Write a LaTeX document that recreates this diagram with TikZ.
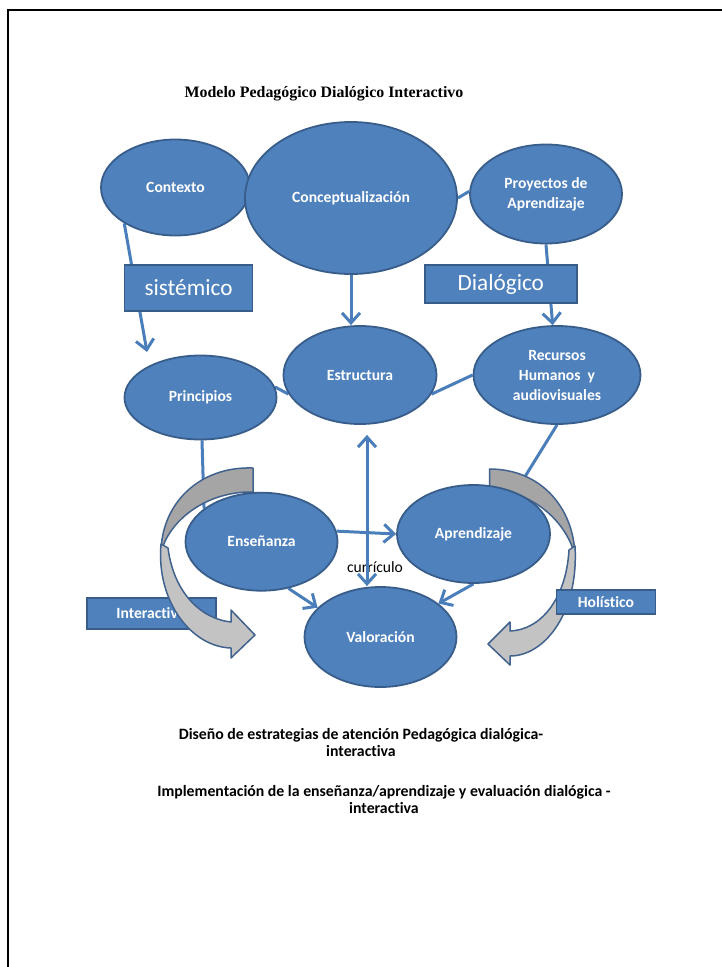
\documentclass[tikz,border=0pt]{standalone}
\usepackage{fontspec}
\setmainfont{Carlito}[Ligatures=NoCommon]
\newfontfamily\titlefont{Liberation Serif}
\usetikzlibrary{arrows.meta,shapes.geometric}
\definecolor{nodeblue}{HTML}{4F81BD}
\definecolor{nodeedge}{HTML}{385D8A}
\definecolor{linkblue}{HTML}{4A7EBB}
\definecolor{graydark}{HTML}{A5A5A5}
\definecolor{graylight}{HTML}{C3C3C3}
\definecolor{grayedge}{HTML}{41628E}
\pgfdeclarelayer{bg}
\pgfdeclarelayer{low}
\pgfdeclarelayer{arr}
\pgfsetlayers{bg,low,arr,main}
\begin{document}
\begin{tikzpicture}[x=1pt,y=-1pt,
  ell/.style={ellipse, draw=nodeedge, fill=nodeblue, line width=1.8pt, inner sep=0pt,
    text=white, font=\fontsize{15.6}{20}\selectfont\bfseries, align=center},
  lab/.style={rectangle, draw=nodeedge, fill=nodeblue, line width=1.8pt, inner sep=0pt, text=white},
  bigtxt/.style={font=\fontsize{23.2}{28}\selectfont},
  smalltxt/.style={font=\fontsize{15.6}{20}\selectfont\bfseries},
  plain/.style={font=\fontsize{15.8}{17}\selectfont\bfseries, align=center, inner sep=0pt},
  cnx/.style={draw=linkblue, line width=3pt},
  tip/.style={-{Straight Barb[length=10pt,width=18pt]}},
  dtip/.style={{Straight Barb[length=10pt,width=18pt]}-{Straight Barb[length=10pt,width=18pt]}},
  ribbonback/.style={fill=graydark, draw=grayedge, line width=1.5pt, line join=round},
  ribbonfront/.style={fill=graylight, draw=grayedge, line width=1.5pt, line join=round}
]
\useasboundingbox (0,0) rectangle (722,967);
% page frame
\draw[line width=2pt] (7.5,967) -- (7.5,10) -- (722,10);

% title
\node[font=\titlefont\fontsize{15.9}{19}\selectfont\bfseries] (title) at (324,94)
  {Modelo Pedagógico Dialógico Interactivo};

% ellipses
\node[ell, minimum width=149pt, minimum height=96pt] (ctx) at (175.5,187.5) {Contexto};
\node[ell, minimum width=212pt, minimum height=152pt] (con) at (351,198) {Conceptualización};
\node[ell, minimum width=152pt, minimum height=99pt] (pro) at (546,194) {Proyectos de\\Aprendizaje};
\node[ell, minimum width=152pt, minimum height=84pt] (pri) at (200.5,397.5) {Principios};
\node[ell, minimum width=153pt, minimum height=98pt] (est) at (360,375) {Estructura};
\node[ell, minimum width=167pt, minimum height=98pt] (rec) at (557,375) {Recursos\\Humanos\ \ y\\audiovisuales};
\node[ell, minimum width=152pt, minimum height=98pt] (ens) at (261.5,541.7) {Enseñanza};
\node[ell, minimum width=153pt, minimum height=98pt] (apr) at (473.5,534) {Aprendizaje};
\node[ell, minimum width=152pt, minimum height=100pt] (val) at (380.5,637) {Valoración};

% label boxes
\node[lab, bigtxt, minimum width=128pt, minimum height=46pt] (sis) at (188.5,288) {sistémico};
\node[lab, bigtxt, minimum width=152pt, minimum height=38pt] (dia) at (500.8,284.2) {Dialógico};
\node[lab, smalltxt, minimum width=99pt, minimum height=24pt] (hol) at (605.9,602.2) {Holístico};
\begin{pgfonlayer}{low}
\node[lab, smalltxt, minimum width=129pt, minimum height=31pt] (int) at (151.3,613.5) {Interactivo};
\end{pgfonlayer}

% connectors
\begin{pgfonlayer}{bg}
\coordinate (ctxtip) at (147,352);
\draw[cnx, tip] (ctx.215) -- (ctxtip);
\draw[cnx, tip] (con.south) -- (con.south |- est.north);
\draw[cnx, tip] (pro.south) -- (rec.95);
\draw[cnx] (con.0) -- (pro.178);
\draw[cnx] (pri.8) -- (est.195);
\draw[cnx] (est.-15) -- (rec.180);
\draw[cnx] (pri.272) -- (ens.150);
\draw[cnx] (rec.south) -- (apr.45);
\node[font=\fontsize{15.6}{18}\selectfont, inner sep=0pt] (cur) at (375,567) {currículo};
\draw[cnx, dtip] ([shift={(7,10)}]est.south) coordinate (cu1) -- (cu1 |- val.north);
\draw[cnx, tip] (ens.8) -- (apr.west);
\draw[cnx, tip] (ens.-60) -- (val.155);
\draw[cnx, tip] (apr.south) -- (val.30);
\end{pgfonlayer}

% curved gray arrows
\begin{pgfonlayer}{arr}
% left (Interactivo)
\draw[ribbonback] (253,468) .. controls (198,466) and (161,505) .. (161,553)
  .. controls (168,522) and (205,491) .. (253,492) -- cycle;
\draw[ribbonfront] (161,544) .. controls (156,602) and (192,647) .. (231,648)
  -- (231,658) -- (255,635) -- (231,610) -- (231,622)
  .. controls (202,619) and (174,594) .. (168,548) -- cycle;
% right (Holistico)
\draw[ribbonback] (489.5,469) .. controls (541,469) and (574,508) .. (575,556)
  .. controls (567,522) and (532,490) .. (489.5,490) -- cycle;
\draw[ribbonfront] (575,546) .. controls (579,612) and (545,656) .. (510,656)
  -- (510,665) -- (488,644) -- (510,622) -- (510,631)
  .. controls (540,630) and (566,600) .. (569,550) -- cycle;
\end{pgfonlayer}

% bottom texts
\node[plain] (t1) at (361,742.5)
  {Diseño de estrategias de atención Pedagógica dialógica-\\interactiva};
\node[plain] (t2) at (384,799.5)
  {Implementación de la enseñanza/aprendizaje y evaluación dialógica -\\interactiva};
\end{tikzpicture}
\end{document}
